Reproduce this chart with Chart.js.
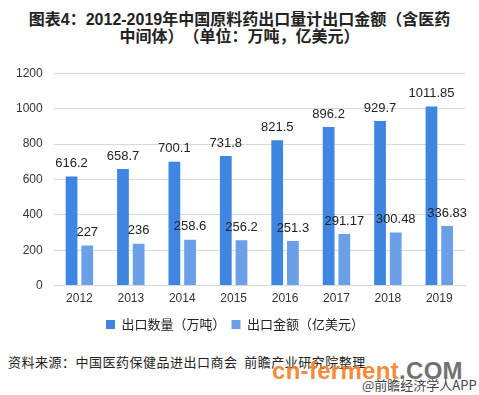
<!DOCTYPE html>
<html><head><meta charset="utf-8">
<script src="https://cdn.jsdelivr.net/npm/chart.js@4/dist/chart.umd.min.js"></script>
<style>
html,body{margin:0;padding:0;background:#fff;}
body{width:479px;height:395px;position:relative;overflow:hidden;font-family:"Noto Sans CJK SC","Noto Sans",sans-serif;}
#title{position:absolute;left:0;top:11px;width:479px;text-align:center;font-family:"Liberation Sans","Noto Sans CJK SC",sans-serif;font-weight:bold;font-size:16px;line-height:17px;color:#222;white-space:nowrap;text-spacing-trim:space-all;}
#wrap{position:absolute;left:0;top:55px;width:479px;height:286px;}
#src{position:absolute;left:8px;top:352px;font-size:13px;color:#222;letter-spacing:0.5px;white-space:nowrap;text-spacing-trim:space-all;}
#wm{position:absolute;left:272px;top:357px;white-space:nowrap;font-family:"Liberation Sans","DejaVu Sans",sans-serif;font-weight:bold;font-size:24px;line-height:28px;letter-spacing:0.3px;color:#F5822A;opacity:0.92;}
#wm span{color:#666;}
#app{position:absolute;left:362px;top:375px;font-size:13px;color:#444;white-space:nowrap;}
</style></head><body>
<div id="title">图表4：2012-2019年中国原料药出口量计出口金额（含医药<br>中间体）（单位：万吨，亿美元）</div>
<div id="wrap"><canvas id="c"></canvas></div>
<div id="src">资料来源：中国医药保健品进出口商会&nbsp; 前瞻产业研究院整理</div>
<div id="wm">cn-ferment<span>.COM</span></div>
<div id="app">@前瞻经济学人APP</div>
<script>
const categories = ["2012","2013","2014","2015","2016","2017","2018","2019"];
const exportVolume = [616.2, 658.7, 700.1, 731.8, 821.5, 896.2, 929.7, 1011.85];
const exportValue = [227, 236, 258.6, 256.2, 251.3, 291.17, 300.48, 336.83];
const seriesNames = ["出口数量（万吨）", "出口金额（亿美元）"];

const labelPlugin = {
  id: 'barLabels',
  afterDatasetsDraw(chart) {
    const ctx = chart.ctx;
    ctx.save();
    ctx.font = '13px "Liberation Sans", "DejaVu Sans", sans-serif';
    ctx.fillStyle = '#222';
    ctx.textAlign = 'center';
    ctx.textBaseline = 'middle';
    chart.data.datasets.forEach((ds, i) => {
      chart.getDatasetMeta(i).data.forEach((bar, j) => {
        ctx.fillText(String(ds.data[j]), bar.x, bar.y - 13);
      });
    });
    ctx.restore();
  }
};

new Chart(document.getElementById('c'), {
  type: 'bar',
  data: {
    labels: categories,
    datasets: [
      {label: seriesNames[0], data: exportVolume, backgroundColor: '#3F86E2', categoryPercentage: 0.61, barPercentage: 0.75},
      {label: seriesNames[1], data: exportValue, backgroundColor: '#6BA0E8', categoryPercentage: 0.61, barPercentage: 0.75}
    ]
  },
  options: {
    responsive: true,
    maintainAspectRatio: false,
    animation: false,
    layout: {padding: {top: 18, left: 5, right: 14, bottom: 0}},
    plugins: {
      legend: {
        position: 'bottom',
        labels: {boxWidth: 9, boxHeight: 9, color: '#222', font: {size: 13, family: '"Noto Sans CJK SC", sans-serif'}, padding: 6}
      },
      tooltip: {enabled: false}
    },
    scales: {
      x: {
        grid: {display: false, drawTicks: false},
        border: {display: true, color: '#D9D9D9'},
        ticks: {color: '#333', font: {size: 12, family: '"Liberation Sans", sans-serif'}, padding: 6}
      },
      y: {
        min: 0, max: 1200,
        ticks: {stepSize: 200, color: '#333', font: {size: 12, family: '"Liberation Sans", sans-serif'}, padding: 11,
          callback: v => String(v)},
        grid: {color: '#D9D9D9', drawTicks: false},
        border: {display: false}
      }
    }
  },
  plugins: [labelPlugin]
});
</script>
</body></html>
